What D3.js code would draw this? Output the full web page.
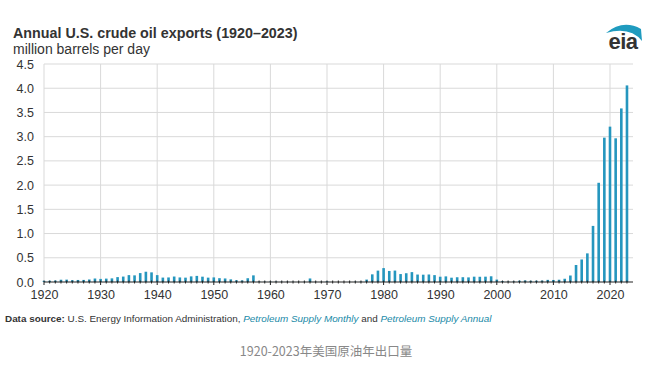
<!DOCTYPE html>
<html><head><meta charset="utf-8">
<script src="https://cdn.jsdelivr.net/npm/d3@7"></script>
<style>body{margin:0;background:#fff;}svg{display:block;font-family:"Liberation Sans",Arial,sans-serif;}</style>
</head><body><div id="chart"></div>
<script>
const years = d3.range(1920, 2024);
// thousand barrels per day -> converted to million below
const exportsKbd = [
 24,26,30,47,49,37,42,43,52,72,
 64,70,75,101,112,142,137,184,212,199,
 142,91,94,113,94,90,116,126,110,90,
 95,79,73,55,37,32,78,137,11,7,
 8,9,5,5,4,3,4,73,5,4,
 14,1,1,2,3,6,8,50,158,235,
 287,228,236,164,181,204,154,151,155,142,
 109,116,89,98,99,95,110,108,110,118,
 50,20,9,12,27,32,25,27,29,44,
 42,47,67,134,351,465,591,1158,2048,2980,
 3207,2966,3583,4058];
const values = exportsKbd.map(v => v/1000);
const yTicks = [0,0.5,1,1.5,2,2.5,3,3.5,4,4.5];
const xTicks = d3.range(1920, 2021, 10);

const W = 665, H = 368;
const svg = d3.select("#chart").append("svg").attr("width", W).attr("height", H);
const x = d3.scaleLinear().domain([1920, 2020]).range([44, 610]);
const y = d3.scaleLinear().domain([0, 4.5]).range([282, 64]);
const xRight = 633;

// horizontal grid
svg.append("g").selectAll("line").data(yTicks.slice(1)).join("line")
  .attr("x1", 44).attr("x2", xRight).attr("y1", d=>y(d)).attr("y2", d=>y(d))
  .attr("stroke", "#d9d9d9").attr("stroke-width", 1);
// vertical grid
svg.append("g").selectAll("line").data(xTicks.slice(1)).join("line")
  .attr("x1", d=>x(d)).attr("x2", d=>x(d)).attr("y1", y(4.5)).attr("y2", y(0))
  .attr("stroke", "#d9d9d9").attr("stroke-width", 1);
svg.append("line").attr("x1",44).attr("x2",44).attr("y1",y(4.5)).attr("y2",y(0)).attr("stroke","#d9d9d9");

// y labels
svg.append("g").selectAll("text").data(yTicks).join("text")
  .attr("x", 34).attr("y", d=>y(d)+4.5).attr("text-anchor","end")
  .attr("font-size", 12.5).attr("fill","#333").text(d=>d.toFixed(1));

// bars
svg.append("g").selectAll("rect").data(years).join("rect")
  .attr("x", (d)=>x(d)-1.3).attr("width", 2.6)
  .attr("y", (d,i)=>y(values[i])).attr("height", (d,i)=>y(0)-y(values[i]))
  .attr("fill", "#2596be");

// x axis
const xAxis = d3.axisBottom(x).tickValues(xTicks).tickFormat(d3.format("d")).tickSize(0).tickPadding(8);
const gx = svg.append("g").attr("transform", `translate(0,${y(0)})`).call(xAxis);
gx.select(".domain").remove();
gx.selectAll("text").attr("font-size", 12.5).attr("fill","#333").attr("font-family","Liberation Sans, Arial, sans-serif");
svg.append("line").attr("x1",44).attr("x2",xRight).attr("y1",y(0)).attr("y2",y(0)).attr("stroke","#222").attr("stroke-width",1.2);
svg.append("g").selectAll("line").data(years).join("line")
  .attr("x1", d=>x(d)).attr("x2", d=>x(d)).attr("y1", y(0)-1.5).attr("y2", d=> y(0)+ (d%10===0?3:1.5))
  .attr("stroke","#222").attr("stroke-width",1);

// titles
svg.append("text").attr("x",13).attr("y",38).attr("font-size",14.3).attr("font-weight","bold").attr("fill","#333")
  .text("Annual U.S. crude oil exports (1920–2023)");
svg.append("text").attr("x",13).attr("y",54).attr("font-size",14).attr("fill","#333")
  .text("million barrels per day");

// logo
const lg = svg.append("g");
lg.append("text").attr("x",623).attr("y",49).attr("text-anchor","middle").attr("font-size",22).attr("font-weight","bold")
  .attr("fill","#333").attr("letter-spacing",-0.5).text("eia");
lg.append("path").attr("d","M606,33 Q623,19 641,29 L642,41 Q630,26 606,33 Z").attr("fill","#1f9bbf");

// source
const src = svg.append("text").attr("x",5).attr("y",322).attr("font-size",9.9).attr("fill","#333");
src.append("tspan").attr("font-weight","bold").text("Data source: ");
src.append("tspan").text("U.S. Energy Information Administration, ");
src.append("tspan").attr("font-style","italic").attr("fill","#1a8aa8").text("Petroleum Supply Monthly");
src.append("tspan").text(" and ");
src.append("tspan").attr("font-style","italic").attr("fill","#1a8aa8").text("Petroleum Supply Annual");

svg.append("text").attr("x",326).attr("y",356).attr("text-anchor","middle").attr("font-size",12.5)
  .attr("fill","#888").attr("font-family","'Noto Sans CJK SC', sans-serif").text("1920-2023年美国原油年出口量");
</script></body></html>
